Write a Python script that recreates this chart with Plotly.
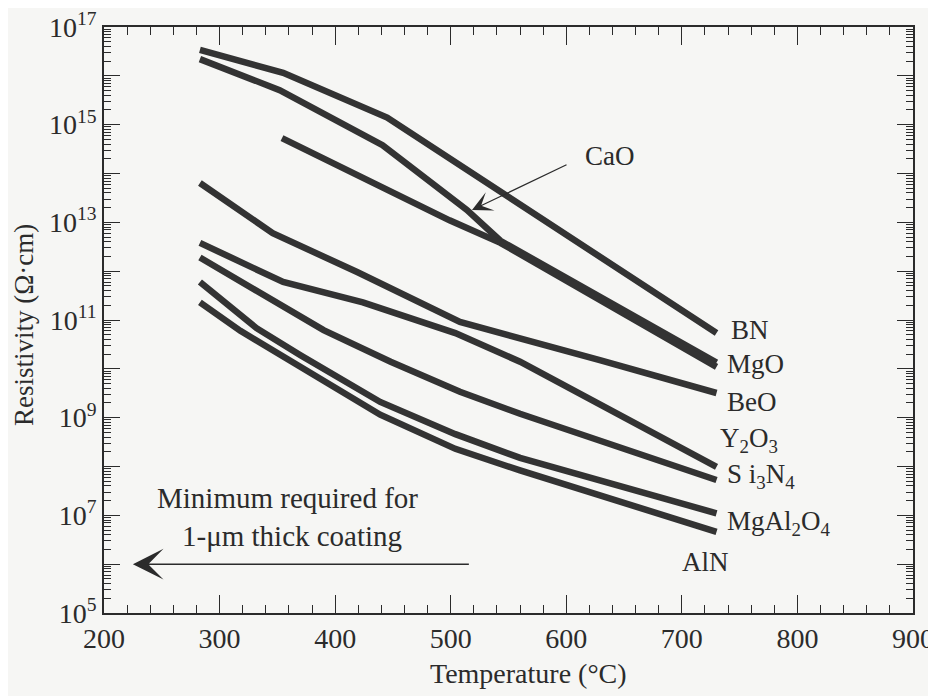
import math
import plotly.graph_objects as go

# ---------------- data ----------------
temp_BN = [283, 355, 445, 577, 730]
rho_BN = [3.4e16, 1.15e16, 1.4e15, 1.3e13, 5.4e10]

temp_CaO = [283, 352, 441, 514, 543, 730]
rho_CaO = [2.2e16, 5.1e15, 3.8e14, 1.8e13, 4.2e12, 1.35e10]

temp_MgO = [354, 499, 543, 730]
rho_MgO = [5.3e14, 1.1e13, 3.8e12, 1.1e10]

temp_BeO = [283, 346, 419, 508, 629, 730]
rho_BeO = [6.4e13, 6.0e12, 9.6e11, 9.1e10, 1.5e10, 3.2e9]

temp_Y2O3 = [283, 355, 424, 504, 560, 730]
rho_Y2O3 = [3.8e12, 6.0e11, 2.3e11, 5.4e10, 1.4e10, 9.8e7]

temp_Si3N4 = [283, 335, 390, 448, 508, 560, 730]
rho_Si3N4 = [1.9e12, 3.6e11, 6.2e10, 1.4e10, 3.4e9, 1.2e9, 5.3e7]

temp_MgAl2O4 = [283, 332, 370, 439, 504, 560, 730]
rho_MgAl2O4 = [6.0e11, 6.8e10, 1.9e10, 2.1e9, 4.6e8, 1.5e8, 1.1e7]

temp_AlN = [283, 318, 439, 504, 560, 730]
rho_AlN = [2.3e11, 6.0e10, 1.15e9, 2.3e8, 8.3e7, 4.6e6]

# end-of-line labels: (text, temperature, resistivity)
label_text = ["BN", "MgO", "BeO", "Y<sub>2</sub>O<sub>3</sub>", "S i<sub>3</sub>N<sub>4</sub>",
              "MgAl<sub>2</sub>O<sub>4</sub>", "AlN"]
label_temp = [741, 737, 737, 731, 737, 737, 698]
label_rho = [6.2e10, 1.26e10, 2.1e9, 3.5e8, 6.4e7, 7.0e6, 1.1e6]

min_required = 1e6          # minimum resistivity for a 1-um coating
min_arrow_from = 517
min_arrow_to = 225

x_tickvals = [200, 300, 400, 500, 600, 700, 800, 900]
y_exponents = list(range(5, 18))
y_labelled = [5, 7, 9, 11, 13, 15, 17]

# ---------------- style ----------------
INK = "#2b2b2b"
LINE = "#333333"
BG = "#f6f6f4"
FONT = "Liberation Serif"

series = [
    ("BN", temp_BN, rho_BN),
    ("CaO", temp_CaO, rho_CaO),
    ("MgO", temp_MgO, rho_MgO),
    ("BeO", temp_BeO, rho_BeO),
    ("Y2O3", temp_Y2O3, rho_Y2O3),
    ("Si3N4", temp_Si3N4, rho_Si3N4),
    ("MgAl2O4", temp_MgAl2O4, rho_MgAl2O4),
    ("AlN", temp_AlN, rho_AlN),
]

fig = go.Figure()
for name, t, r in series:
    fig.add_trace(go.Scatter(x=t, y=r, mode="lines", name=name, showlegend=False,
                             line=dict(color=LINE, width=6.5)))

y_tickvals = [10.0 ** e for e in y_exponents]
y_ticktext = [("10<sup>%d</sup>" % e) if e in y_labelled else "" for e in y_exponents]
y_minor = [k * 10.0 ** e for e in y_exponents[:-1] for k in range(2, 10)]

fig.update_xaxes(range=[200, 900], tickmode="array", tickvals=x_tickvals,
                 ticktext=[str(v) for v in x_tickvals], automargin=False,
                 ticks="inside", ticklen=18, tickwidth=1.4, tickcolor=INK,
                 showline=True, linecolor=INK, linewidth=1.6, mirror="ticks",
                 showgrid=False, zeroline=False,
                 minor=dict(tickmode="linear", tick0=200, dtick=20, ticks="inside",
                            ticklen=8, tickwidth=1.2, tickcolor=INK, showgrid=False),
                 tickfont=dict(family=FONT, size=28, color=INK))

fig.update_yaxes(type="log", range=[5, 17], tickmode="array", tickvals=y_tickvals,
                 ticktext=y_ticktext, automargin=False,
                 ticks="inside", ticklen=16, tickwidth=1.4, tickcolor=INK,
                 showline=True, linecolor=INK, linewidth=1.6, mirror="ticks",
                 showgrid=False, zeroline=False,
                 minor=dict(tickmode="array", tickvals=y_minor, ticks="inside",
                            ticklen=7, tickwidth=1.1, tickcolor=INK, showgrid=False),
                 tickfont=dict(family=FONT, size=28, color=INK))

# end labels
for txt, t, r in zip(label_text, label_temp, label_rho):
    fig.add_annotation(x=t, y=math.log10(r), xref="x", yref="y", text=txt,
                       showarrow=False, xanchor="left", yanchor="middle",
                       font=dict(family=FONT, size=27, color=INK))

# CaO label with arrow
fig.add_annotation(x=518.4, y=13.252, ax=601.5, ay=14.194, xref="x", yref="y",
                   axref="x", ayref="y", text="", showarrow=True, arrowhead=3,
                   arrowsize=2.8, arrowwidth=1.2, arrowcolor=INK)
fig.add_annotation(x=638, y=14.36, xref="x", yref="y", text="CaO", showarrow=False,
                   xanchor="center", yanchor="middle",
                   font=dict(family=FONT, size=27, color=INK))

# minimum-required arrow and text
fig.add_annotation(x=min_arrow_to, y=math.log10(min_required), ax=min_arrow_from,
                   ay=math.log10(min_required), xref="x", yref="y", axref="x", ayref="y",
                   text="", showarrow=True, arrowhead=3, arrowsize=3.4, arrowwidth=1.5,
                   arrowcolor=INK)
fig.add_annotation(x=359, y=7.36, xref="x", yref="y", text="Minimum required for",
                   showarrow=False, xanchor="center", yanchor="middle",
                   font=dict(family=FONT, size=29, color=INK))
fig.add_annotation(x=363, y=6.58, xref="x", yref="y", text="1-μm thick coating",
                   showarrow=False, xanchor="center", yanchor="middle",
                   font=dict(family=FONT, size=29, color=INK))

# axis titles
fig.add_annotation(x=0, y=0.4915, xref="paper", yref="paper", xshift=-80,
                   text="Resistivity (Ω·cm)", textangle=-90, showarrow=False,
                   xanchor="center", yanchor="middle",
                   font=dict(family=FONT, size=27, color=INK))
fig.add_annotation(x=0.525, y=-0.104, xref="paper", yref="paper",
                   text="Temperature (°C)", showarrow=False,
                   xanchor="center", yanchor="middle",
                   font=dict(family=FONT, size=28, color=INK))

# the page adds an 8 px body margin; the figure is sized so the plot area
# lands at the reference position (x 104-913, y 27-613 in the window)
fig.update_layout(width=928, height=688, margin=dict(l=96, r=23, t=19, b=83, autoexpand=False),
                  paper_bgcolor=BG, plot_bgcolor=BG, showlegend=False)

fig.write_html("out.html")
